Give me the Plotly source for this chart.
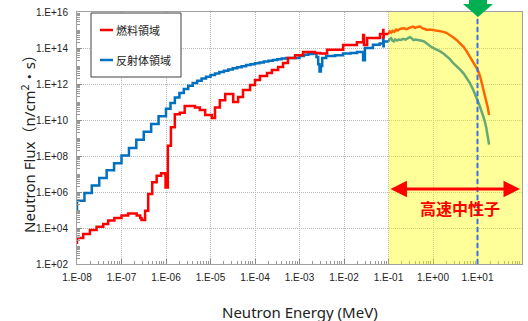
import plotly.graph_objects as go

# ---------------------------------------------------------------------------
# Neutron spectrum data: energy (MeV) and flux (n/cm^2/s)
# Stepped part = group-wise values up to 0.1 MeV, fast part = fine groups above
# ---------------------------------------------------------------------------

# Fuel region (燃料領域)
fuel_e_steps = [1.0e-8, 1.0e-8, 1.38e-8, 1.95e-8, 2.75e-8, 3.89e-8, 5.01e-8, 6.92e-8,
                1.0e-7, 1.41e-7, 2.19e-7, 2.63e-7, 2.82e-7, 3.39e-7, 3.98e-7, 4.9e-7,
                6.17e-7, 7.76e-7, 9.55e-7, 9.77e-7, 1.1e-6, 1.29e-6, 1.58e-6, 2.04e-6,
                2.63e-6, 4.47e-6, 5.75e-6, 7.59e-6, 1.07e-5, 1.26e-5, 1.62e-5, 2.14e-5,
                3.24e-5, 4.17e-5, 5.37e-5, 7.76e-5, 1.0e-4, 1.29e-4, 1.86e-4, 2.4e-4,
                3.31e-4, 4.27e-4, 5.5e-4, 7.94e-4, 1.2e-3, 2.24e-3, 2.88e-3, 4.17e-3,
                9.55e-3, 1.95e-2, 2.69e-2, 2.82e-2, 3.31e-2, 6.46e-2, 7.59e-2, 7.7e-2,
                7.8e-2, 1.0e-1]
fuel_flux_steps = [1.3e3, 2.75e3, 4.7e3, 7.8e3, 1.17e4, 1.66e4, 2.6e4, 3.6e4,
                   4.9e4, 6.3e4, 4.9e4, 3.6e4, 2.75e4, 9.1e4, 7.8e5, 3.5e6,
                   8.1e6, 1.1e7, 1.0e7, 1.8e6, 3.7e8, 3.9e9, 2.1e10, 2.5e10,
                   6.0e10, 5.0e10, 3.6e10, 1.9e10, 1.3e10, 5.0e10, 1.26e11, 2.75e11,
                   1.0e11, 1.9e11, 4.7e11, 8.7e11, 1.66e12, 2.75e12, 4.1e12, 6.0e12,
                   8.7e12, 1.48e13, 2.75e13, 4.0e13, 6.0e13, 5.2e13, 5.0e13, 7.9e13,
                   1.48e14, 2.1e14, 5.2e14, 1.48e14, 3.6e14, 6.0e14, 1.0e15, 4.0e14,
                   6.0e14, 6.0e14]
fuel_e_fast = [0.100, 0.107, 0.115, 0.123, 0.135, 0.148, 0.162, 0.178, 0.200, 0.224,
               0.251, 0.282, 0.316, 0.355, 0.398, 0.447, 0.513, 0.575, 0.661, 0.741,
               0.851, 1.00, 1.20, 1.45, 1.74, 2.04, 2.40, 2.82, 3.39, 4.07,
               4.90, 5.75, 6.76, 7.94, 9.12, 10.2, 11.7, 13.2, 14.5, 15.8,
               17.0, 18.2]
fuel_flux_fast = [6.0e14, 8.3e14, 7.1e14, 8.9e14, 7.9e14, 1.05e15, 9.3e14, 1.12e15, 1.2e15, 1.26e15,
                  1.12e15, 1.32e15, 1.41e15, 1.55e15, 1.32e15, 1.48e15, 1.55e15, 1.26e15, 1.05e15, 1.0e15,
                  1.05e15, 1.0e15, 9.5e14, 9.1e14, 7.9e14, 6.8e14, 5.4e14, 4.0e14, 2.8e14, 1.86e14,
                  1.12e14, 6.3e13, 3.4e13, 1.74e13, 1.0e13, 6.0e12, 2.2e12, 7.1e11, 2.8e11, 1.26e11,
                  5.0e10, 1.9e10]

# Reflector region (反射体領域)
refl_e_steps = [1.0e-8, 1.0e-8, 1.47e-8, 2.15e-8, 3.16e-8, 4.64e-8, 6.81e-8,
                1.0e-7, 1.47e-7, 2.15e-7, 3.16e-7, 4.64e-7, 6.81e-7,
                1.0e-6, 1.26e-6, 1.58e-6, 2.0e-6, 2.51e-6, 3.16e-6, 3.98e-6, 5.01e-6, 6.31e-6, 7.94e-6,
                1.0e-5, 1.26e-5, 1.58e-5, 2.0e-5, 2.51e-5, 3.16e-5, 3.98e-5, 5.01e-5, 6.31e-5, 7.94e-5,
                1.0e-4, 1.26e-4, 1.58e-4, 2.0e-4, 2.51e-4, 3.16e-4, 3.98e-4, 5.01e-4, 6.31e-4, 7.94e-4,
                1.0e-3, 1.26e-3, 1.58e-3, 2.0e-3, 2.4e-3, 2.63e-3, 2.82e-3, 3.02e-3, 3.24e-3,
                3.98e-3, 6.31e-3, 9.5e-3, 1.41e-2, 1.95e-2, 2.69e-2, 2.95e-2, 4.47e-2, 6.31e-2,
                7.59e-2, 7.7e-2, 7.8e-2, 1.0e-1]
refl_flux_steps = [1.0e5, 3.3e5, 8.7e5, 2.3e6, 6.0e6, 1.6e7, 4.0e7,
                   1.05e8, 2.8e8, 7.9e8, 2.2e9, 6.0e9, 1.6e10,
                   4.2e10, 8.9e10, 1.8e11, 3.2e11, 5.2e11, 7.9e11, 1.12e12, 1.5e12, 2.0e12, 2.5e12,
                   3.2e12, 3.8e12, 4.6e12, 5.4e12, 6.3e12, 7.4e12, 8.5e12, 9.8e12, 1.12e13, 1.26e13,
                   1.41e13, 1.58e13, 1.78e13, 1.95e13, 2.14e13, 2.34e13, 2.57e13, 2.75e13, 2.82e13, 2.82e13,
                   3.55e13, 4.17e13, 4.57e13, 5.0e13, 3.16e13, 1.26e13, 5.0e12, 1.0e13, 2.75e13,
                   3.55e13, 4.0e13, 5.0e13, 5.2e13, 6.0e13, 2.1e13, 1.0e14, 1.5e14, 1.8e14,
                   3.5e14, 1.26e14, 2.3e14, 2.3e14]
refl_e_fast = [0.100, 0.107, 0.115, 0.123, 0.132, 0.141, 0.155, 0.170, 0.191, 0.214,
               0.240, 0.269, 0.302, 0.331, 0.363, 0.398, 0.447, 0.501, 0.562, 0.631,
               0.708, 0.794, 0.891, 1.00, 1.20, 1.45, 1.74, 2.04, 2.40, 2.82,
               3.39, 4.07, 4.90, 5.75, 6.76, 7.94, 9.12, 10.2, 11.7, 13.2,
               14.5, 15.8, 17.0, 18.2]
refl_flux_fast = [2.3e14, 3.2e14, 3.5e14, 2.5e14, 2.3e14, 3.0e14, 2.6e14, 2.95e14, 2.8e14, 3.2e14,
                  2.9e14, 3.5e14, 4.0e14, 3.5e14, 2.75e14, 2.95e14, 2.7e14, 2.6e14, 2.5e14, 2.3e14,
                  1.8e14, 1.38e14, 1.2e14, 1.0e14, 8.3e13, 6.5e13, 4.8e13, 3.5e13, 2.4e13, 1.48e13,
                  1.0e13, 6.3e12, 3.8e12, 2.1e12, 1.12e12, 4.9e11, 2.4e11, 1.12e11, 4.5e10, 2.0e10,
                  8.9e9, 3.6e9, 1.4e9, 4.3e8]

# Axis ticks
x_tick_vals = [1e-8, 1e-7, 1e-6, 1e-5, 1e-4, 1e-3, 1e-2, 1e-1, 1e0, 1e1, 1e2]
x_tick_text = ["1.E-08", "1.E-07", "1.E-06", "1.E-05", "1.E-04", "1.E-03",
               "1.E-02", "1.E-01", "1.E+00", "1.E+01", "1.E+02"]
y_tick_vals = [1e2, 1e4, 1e6, 1e8, 1e10, 1e12, 1e14, 1e16]
y_tick_text = ["1.E+02", "1.E+04", "1.E+06", "1.E+08", "1.E+10", "1.E+12", "1.E+14", "1.E+16"]

legend_labels = ["燃料領域", "反射体領域"]
fast_label = "高速中性子"
x_title = "Neutron Energy (MeV)"
y_title = "Neutron Flux（n/cm<sup>2</sup>・s）"

# Fast-neutron band and marked energy (MeV)
fast_band = [0.1, 100.0]
marked_energy = 10.0

RED = "#FF0000"
BLUE = "#0070C0"

# minor log ticks (2..9 in each decade)
x_minor = [m * 10.0 ** k for k in range(-8, 2) for m in range(2, 10)]
y_minor = [m * 10.0 ** k for k in range(2, 16) for m in range(1, 10)]

fig = go.Figure()

def add_series(e_steps, f_steps, e_fast, f_fast, color):
    fig.add_trace(go.Scatter(x=e_steps, y=f_steps, mode="lines",
                             line=dict(color=color, width=2.5, shape="hv"),
                             showlegend=False, hoverinfo="skip"))
    fig.add_trace(go.Scatter(x=e_fast, y=f_fast, mode="lines",
                             line=dict(color=color, width=2.5),
                             showlegend=False, hoverinfo="skip"))

add_series(refl_e_steps, refl_flux_steps, refl_e_fast, refl_flux_fast, BLUE)
add_series(fuel_e_steps, fuel_flux_steps, fuel_e_fast, fuel_flux_fast, RED)

L = 77.0   # plot-area pixel geometry used for paper-coordinate helpers
R = 522.0
T = 12.0
B = 264.0

def px(xp):
    return (xp - L) / (R - L)

def py(yp):
    return (B - yp) / (B - T)

shapes = [
    # translucent yellow band over the fast region
    dict(type="rect", xref="x", yref="paper",
         x0=fast_band[0], x1=fast_band[1], y0=0, y1=1,
         fillcolor="rgba(255,255,0,0.4)", line=dict(width=0), layer="above"),
    # dashed marker line at 10 MeV
    dict(type="line", xref="x", yref="paper",
         x0=marked_energy, x1=marked_energy, y0=0, y1=py(0),
         line=dict(color="#3F6FE0", width=2, dash="5px,3px"), layer="above"),
    # green arrow pointing to the marked energy
    dict(type="path", xref="paper", yref="paper",
         path=(f"M {px(469)},{py(-2)} L {px(487)},{py(-2)} L {px(487)},{py(4)} "
               f"L {px(493)},{py(4)} L {px(478)},{py(17)} L {px(463)},{py(4)} "
               f"L {px(469)},{py(4)} Z"),
         fillcolor="#00B050", line=dict(width=0), layer="above"),
    # legend frame
    dict(type="rect", xref="paper", yref="paper",
         x0=px(91), x1=px(181), y0=py(77), y1=py(13),
         fillcolor="white", line=dict(color="#404040", width=1), layer="above"),
    dict(type="line", xref="paper", yref="paper", x0=px(100), x1=px(113), y0=py(30), y1=py(30),
         line=dict(color=RED, width=2.5), layer="above"),
    dict(type="line", xref="paper", yref="paper", x0=px(100), x1=px(113), y0=py(60), y1=py(60),
         line=dict(color=BLUE, width=2.5), layer="above"),
]

annotations = [
    dict(xref="paper", yref="paper", x=px(114), y=py(30), text=legend_labels[0],
         showarrow=False, xanchor="left", yanchor="middle",
         font=dict(family="Noto Sans CJK JP", size=11, color="#222222")),
    dict(xref="paper", yref="paper", x=px(114), y=py(60), text=legend_labels[1],
         showarrow=False, xanchor="left", yanchor="middle",
         font=dict(family="Noto Sans CJK JP", size=11, color="#222222")),
    # double-headed arrow spanning the fast band
    dict(xref="x", yref="y", axref="x", ayref="y",
         x=1.955, y=6.17, ax=-0.99, ay=6.17, text="", showarrow=True,
         arrowhead=2, arrowside="end+start", arrowsize=1.1, arrowwidth=3, arrowcolor=RED,
         standoff=0, startstandoff=0),
    dict(xref="x", yref="y", x=0.607, y=5.11, text="<b>" + fast_label + "</b>",
         showarrow=False, xanchor="center", yanchor="middle",
         font=dict(family="Noto Sans CJK JP", size=16, color=RED)),
    # axis titles
    dict(xref="paper", yref="paper", x=px(300), y=py(312), text=x_title,
         showarrow=False, xanchor="center", yanchor="middle",
         font=dict(family="Noto Sans, Noto Sans CJK JP", size=15, color="#222222")),
    dict(xref="paper", yref="paper", x=px(28), y=py(140), text=y_title, textangle=-90,
         showarrow=False, xanchor="center", yanchor="middle",
         font=dict(family="Noto Sans, Noto Sans CJK JP", size=15, color="#222222")),
]

tick_font = dict(family="Liberation Sans", size=10, color="#222222")

fig.update_layout(
    width=528, height=321,
    margin=dict(l=77, r=6, t=12, b=57),
    paper_bgcolor="white", plot_bgcolor="white",
    showlegend=False,
    shapes=shapes,
    annotations=annotations,
    xaxis=dict(type="log", range=[-8, 2], tickmode="array",
               tickvals=x_tick_vals, ticktext=x_tick_text, tickfont=tick_font,
               ticks="inside", ticklen=5, tickcolor="#888888", ticklabelstandoff=4,
               showgrid=True, gridcolor="#B8B8B8", griddash="1px,1px", gridwidth=1,
               showline=True, linecolor="#A0A0A0", linewidth=1, mirror=True,
               minor=dict(tickmode="array", tickvals=x_minor, ticks="inside", ticklen=3,
                          tickcolor="#999999", showgrid=False),
               zeroline=False),
    yaxis=dict(type="log", range=[2, 16], tickmode="array",
               tickvals=y_tick_vals, ticktext=y_tick_text, tickfont=tick_font,
               ticks="inside", ticklen=5, tickcolor="#888888", ticklabelstandoff=6,
               showgrid=True, gridcolor="#B8B8B8", griddash="1px,1px", gridwidth=1,
               showline=True, linecolor="#A0A0A0", linewidth=1, mirror=True,
               minor=dict(tickmode="array", tickvals=y_minor, ticks="inside", ticklen=3,
                          tickcolor="#999999", showgrid=False),
               zeroline=False),
)

fig.write_html("out.html")
